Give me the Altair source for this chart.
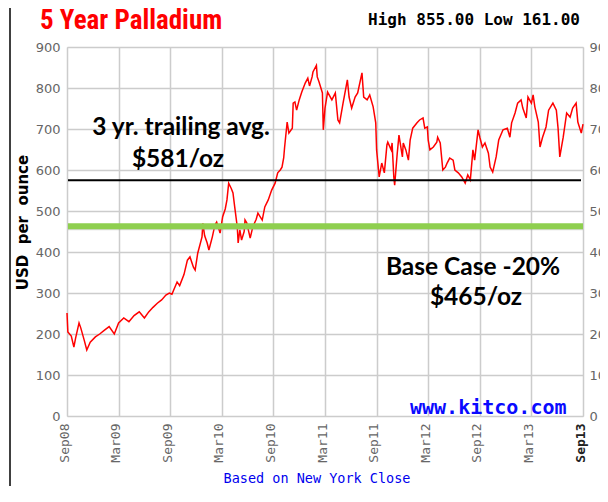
import altair as alt
import pandas as pd

# months since Sep 2008 and USD/oz
months = [0.0,0.1,0.5,0.8,1.0,1.4,1.6,2.0,2.3,2.7,3.3,3.8,4.4,4.9,5.5,6.0,6.6,7.2,7.8,8.4,
          9.0,9.5,10.0,10.5,11.0,11.5,11.9,12.2,12.8,13.1,13.6,14.0,14.3,14.7,14.9,15.2,15.7,15.8,16.0,16.3,
          16.5,16.9,17.2,17.4,17.8,18.1,18.4,18.6,18.8,19.1,19.3,19.5,19.8,19.9,20.1,20.3,20.6,20.7,20.9,21.3,
          21.6,22.0,22.2,22.7,23.0,23.4,23.8,24.2,24.5,24.8,25.0,25.2,25.3,25.6,25.8,26.2,26.3,26.5,26.7,27.0,
          27.3,27.7,28.0,28.2,28.5,28.6,29.0,29.1,29.3,29.7,29.8,30.0,30.3,30.8,31.2,31.5,31.7,32.1,32.6,32.8,
          33.1,33.5,33.8,34.3,34.5,34.9,35.2,35.6,35.9,36.0,36.3,36.6,36.9,37.2,37.3,37.7,37.8,38.0,38.1,38.4,
          38.6,39.0,39.1,39.4,39.7,39.9,40.2,40.7,41.0,41.4,41.6,41.9,42.0,42.2,42.6,43.0,43.1,43.4,43.7,44.0,
          44.2,44.5,44.9,45.1,45.5,45.9,46.3,46.6,46.9,47.1,47.2,47.4,47.8,48.0,48.3,48.6,49.0,49.2,49.5,49.9,
          50.2,50.7,51.2,51.5,51.7,52.1,52.4,52.8,53.0,53.4,53.6,54.0,54.2,54.4,54.8,55.0,55.3,55.7,56.0,56.5,
          56.9,57.1,57.3,57.7,58.1,58.5,58.8,59.2,59.4,59.8,60.0]
prices = [251,205,195,168,190,227,215,185,161,180,193,200,210,218,200,227,239,230,245,254,
          239,254,265,275,283,295,300,297,327,318,345,380,388,363,356,397,437,470,440,422,
          405,437,466,473,446,486,505,527,568,555,544,510,461,422,454,429,450,478,471,434,
          461,480,495,478,510,527,551,568,593,600,607,630,655,717,690,702,763,766,746,771,
          790,812,824,805,827,839,855,827,815,788,698,751,790,771,788,722,715,763,820,778,
          751,778,788,837,778,771,783,754,715,649,583,617,593,661,668,649,666,583,563,641,
          685,632,666,649,624,673,702,715,722,727,702,705,673,649,656,668,680,666,600,607,
          617,629,624,600,593,583,568,588,576,624,649,624,698,680,656,666,641,607,595,632,
          673,698,702,680,715,739,763,771,751,727,778,763,783,754,717,656,680,705,746,763,
          746,702,632,680,739,729,751,763,717,690,712]

tick_months = [0, 6, 12, 18, 24, 30, 36, 42, 48, 54, 60]
tick_labels = ["Sep08", "Mar09", "Sep09", "Mar10", "Sep10", "Mar11", "Sep11", "Mar12", "Sep12", "Mar13", "Sep13"]
y_ticks = [0, 100, 200, 300, 400, 500, 600, 700, 800, 900]

avg_level = [575]
base_level = [463]

df = pd.DataFrame({"m": months, "p": prices})
label_expr = "[" + ",".join("'%s'" % s for s in tick_labels) + "][round(datum.value/6)]"

W, H = 516, 369
yscale = alt.Scale(domain=[0, 900], nice=False, zero=True)
xscale = alt.Scale(domain=[0, 60], nice=False)

line = alt.Chart(df).mark_line(color="#ff0000", strokeWidth=1.5).encode(
    x=alt.X("m:Q", scale=xscale,
            axis=alt.Axis(values=tick_months, labelExpr=label_expr, title=None,
                          labelAngle=270, labelFont="DejaVu Sans Mono", labelFontSize=13,
                          labelColor={"condition": {"test": "datum.value == 60", "value": "#222222"}, "value": "#666666"},
                          labelFontWeight={"condition": {"test": "datum.value == 60", "value": "bold"}, "value": "normal"},
                          labelPadding=7, labelOffset=-3, ticks=False, domain=False,
                          grid=True, gridColor="#cccccc", gridWidth=1.5)),
    y=alt.Y("p:Q", scale=yscale,
            axis=alt.Axis(values=y_ticks, orient="left", title="USD\u00a0\u00a0per\u00a0\u00a0ounce",
                          titleFont="DejaVu Sans", titleFontSize=15, titleFontWeight="bold",
                          titleColor="#000000", titleAngle=270, titleX=-45, titleY=175,
                          titleAlign="center", titleBaseline="middle",
                          labelFont="DejaVu Sans", labelFontSize=13, labelColor="#666666",
                          labelPadding=7, ticks=False, domain=False,
                          grid=True, gridColor="#cccccc", gridWidth=1.5)),
)

shadow = alt.Chart(pd.DataFrame({"v": [base_level[0] - 4]})).mark_rule(
    color="#999999", strokeWidth=5, opacity=0.35).encode(
    y=alt.Y("v:Q", scale=yscale, axis=None), x=alt.value(1), x2=alt.value(W))

green = alt.Chart(pd.DataFrame({"v": base_level})).mark_rule(
    color="#8fcf4f", strokeWidth=6).encode(
    y=alt.Y("v:Q", scale=yscale, axis=None), x=alt.value(1), x2=alt.value(W))

black = alt.Chart(pd.DataFrame({"v": avg_level})).mark_rule(
    color="#000000", strokeWidth=2).encode(
    y=alt.Y("v:Q", scale=yscale,
            axis=alt.Axis(values=y_ticks, orient="right", title=None, grid=False,
                          labelFont="DejaVu Sans", labelFontSize=13, labelColor="#666666",
                          labelPadding=6, ticks=False, domain=False)),
    x=alt.value(1), x2=alt.value(W - 2))

def txt(s, x, y, size, color="#000000", font="Lato", weight="bold", align="center"):
    return alt.Chart(pd.DataFrame({"t": [s]})).mark_text(
        font=font, fontSize=size, fontWeight=weight, color=color, align=align, baseline="middle"
    ).encode(text="t:N", x=alt.value(x), y=alt.value(y))

texts = [
    txt("3 yr. trailing avg.", 114, 81, 24.5),
    txt("$581/oz", 111, 113, 24.5),
    txt("Base Case -20%", 406, 221, 24.5),
    txt("$465/oz", 409, 251, 24.5),
    txt("www.kitco.com", 343, 361, 20, color="#0a0aff", font="DejaVu Sans Mono", align="left"),
    txt("Based on New York Close", 250, 432, 13.5, color="#0000ee", font="DejaVu Sans Mono", weight="normal"),
    txt("5 Year Palladium", -27, -26, 27, color="#ff0000",
        font="Liberation Sans Narrow, Arial Narrow, Roboto Condensed, Liberation Sans", align="left"),
    txt("High 855.00 Low 161.00", 513, -27, 16, font="DejaVu Sans Mono", align="right"),
]

frame_left = alt.Chart(pd.DataFrame({"a": [0]})).mark_rule(color="#000000", strokeWidth=1.5).encode(
    x=alt.value(-57), y=alt.value(-39), y2=alt.value(439))

chart = alt.layer(line, shadow, green, black, frame_left, *texts).resolve_axis(
    y="independent"
).properties(
    width=W, height=H,
    autosize=alt.AutoSizeParams(type="none"),
    padding={"left": 59, "top": 39, "right": 17, "bottom": 70},
).configure_view(stroke="#aaaaaa", strokeWidth=1.5).configure(background="#ffffff")

chart.save("out.html", embed_options={"renderer": "svg", "actions": False})
